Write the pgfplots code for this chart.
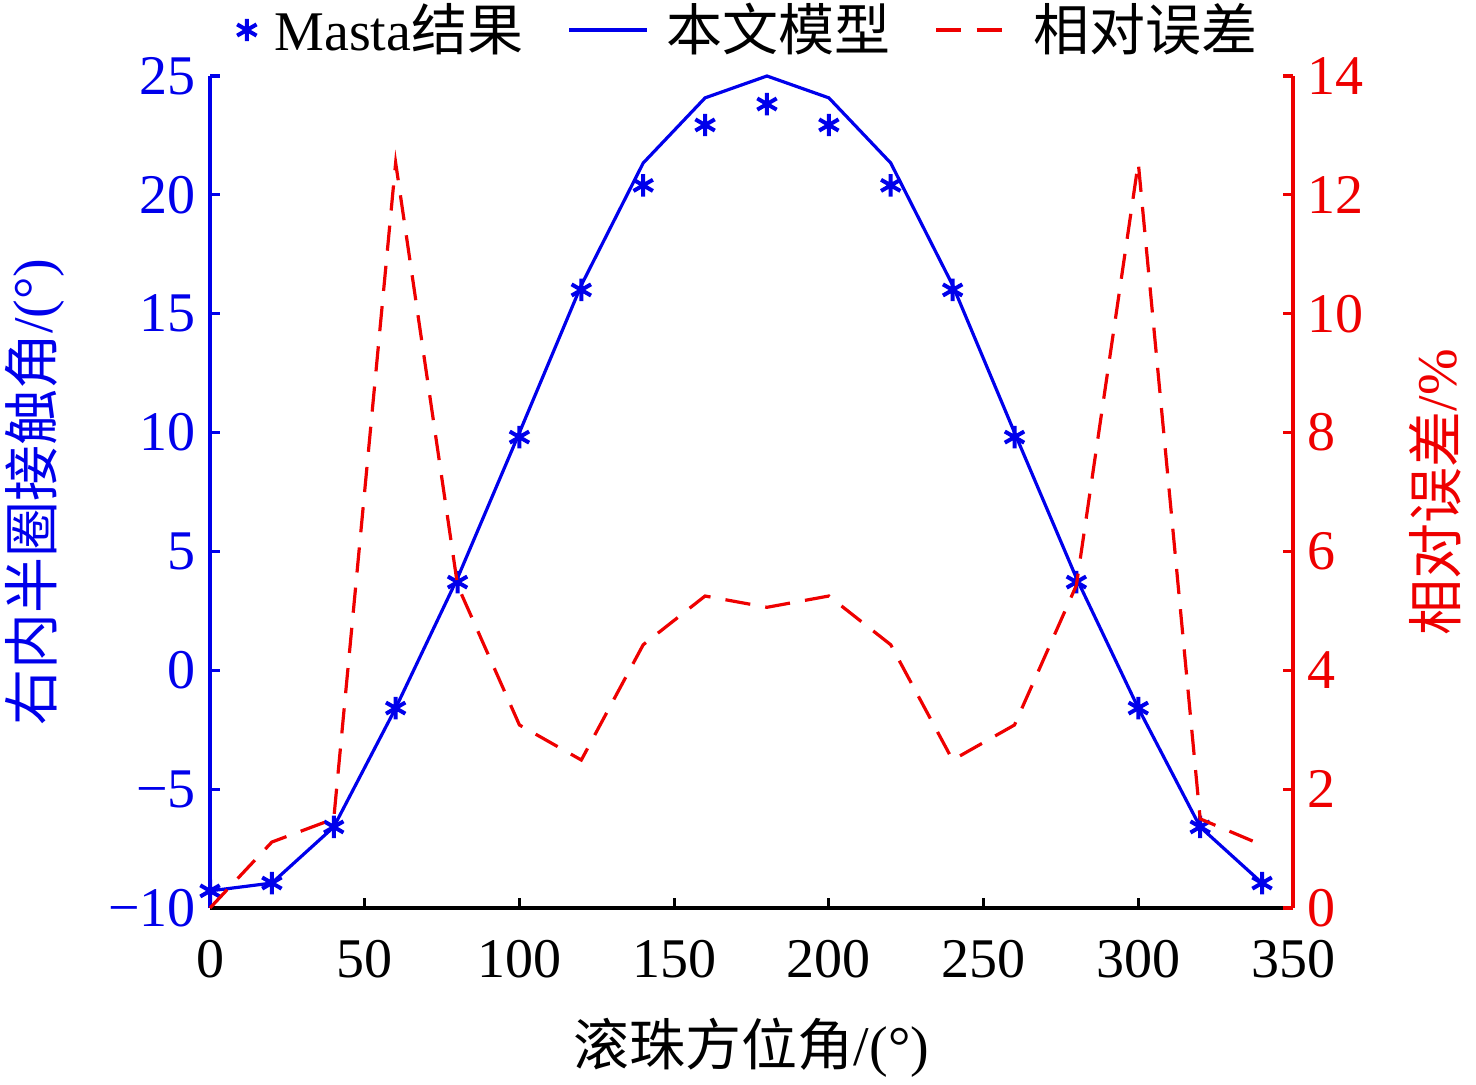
\documentclass[border=0pt]{standalone}
\usepackage{fontspec}
\setmainfont{Liberation Serif}
\newfontfamily\cjk{Noto Sans CJK SC}
\usepackage{pgfplots}
\pgfplotsset{compat=1.18}
\usepackage{pgfplotstable}
\definecolor{myblue}{RGB}{0,0,235}
\definecolor{myred}{RGB}{238,0,0}
\pgfplotsset{
  starlegend/.style={legend image code/.code={\draw[##1] plot coordinates {(9pt,0pt)};}},
  linelegend/.style={legend image code/.code={\draw[##1] (0pt,0pt) -- (19.5pt,0pt);}},
}

\pgfplotstableread{
x masta model
0   -9.28 -9.28
20  -8.95 -8.95
40  -6.59 -6.59
60  -1.59 -1.59
80   3.71  3.88
100  9.81 10.00
120 16.00 16.20
140 20.40 21.34
160 22.94 24.08
180 23.82 25.00
200 22.94 24.08
220 20.40 21.34
240 16.00 16.20
260  9.81 10.00
280  3.71  3.88
300 -1.59 -1.59
320 -6.59 -6.59
340 -8.95 -8.95
}\angledata

\pgfplotstableread{
x err
0   0.00
20  1.11
40  1.50
60  12.54
80  5.43
100 3.08
120 2.49
140 4.43
160 5.25
180 5.06
200 5.25
220 4.43
240 2.49
260 3.08
280 5.43
300 12.54
320 1.50
340 1.06
}\errdata

\begin{document}
\begin{tikzpicture}[font=\fontsize{14}{16.8}\selectfont]
\path[use as bounding box] (-52.5pt,-44pt) rectangle (316.5pt,227pt);
\begin{axis}[
  at={(0pt,0pt)}, anchor=south west,
  scale only axis, width=270.75pt, height=208pt,
  xmin=0, xmax=350, ymin=-10, ymax=25,
  axis x line*=bottom, axis y line*=left,
  x axis line style={black, line width=0.8pt, -},
  y axis line style={myblue, line width=0.8pt, -},
  xtick={0,50,...,350}, xticklabels={0,50,100,150,200,250,300,350},
  ytick={-10,-5,...,25}, yticklabels={−10,−5,0,5,10,15,20,25},
  tick align=inside, major tick length=2.5pt,
  x tick style={black, line width=0.8pt},
  y tick style={myblue, line width=0.8pt},
  xticklabel style={black, yshift=-4.5pt},
  yticklabel style={myblue},
  every axis x label/.style={at={(axis description cs:0.5,-0.1683)}, anchor=center},
  every axis y label/.style={at={(axis description cs:-0.1616,0.5)}, anchor=center, rotate=90, color=myblue},
  xlabel={{\cjk 滚珠方位角}/(°)},
  ylabel={{\cjk 右内半圈接触角}/(°)},
  clip=false,
]
\addplot[myblue, line width=0.8pt, no marks] table[x=x, y=model] {\angledata};
\addplot[myblue, only marks, mark=asterisk, mark size=2.8pt, mark options={line width=1pt}] table[x=x, y=masta] {\angledata};
\end{axis}
\begin{axis}[
  at={(0pt,0pt)}, anchor=south west,
  scale only axis, width=270.75pt, height=208pt,
  xmin=0, xmax=350, ymin=0, ymax=14,
  axis x line=none, axis y line*=right,
  y axis line style={myred, line width=0.8pt, -},
  ytick={0,2,...,14}, yticklabels={0,2,4,6,8,10,12,14},
  tick align=inside, major tick length=2.5pt,
  y tick style={myred, line width=0.8pt},
  yticklabel style={myred},
  every axis y label/.style={at={(axis description cs:1.1311,0.5)}, anchor=center, rotate=90, color=myred},
  ylabel={{\cjk 相对误差}/\%},
  clip=false,
  legend style={at={(axis description cs:0.5,1)}, anchor=center, yshift=11.5pt, draw=none, fill=none,
    legend columns=3, /tikz/every even column/.append style={column sep=9pt},
    /tikz/every odd column/.append style={column sep=2.5pt}},
]
\addlegendimage{myblue, only marks, mark=asterisk, mark size=2.8pt, mark options={line width=1pt}, starlegend}
\addlegendentry{Masta{\cjk 结果}}
\addlegendimage{myblue, line width=0.8pt, linelegend}
\addlegendentry{\cjk 本文模型}
\addplot[myred, line width=0.8pt, dash pattern=on 6.3pt off 3.8pt, no marks, linelegend] table[x=x, y=err] {\errdata};
\addlegendentry{\cjk 相对误差}
\end{axis}
\end{tikzpicture}
\end{document}
